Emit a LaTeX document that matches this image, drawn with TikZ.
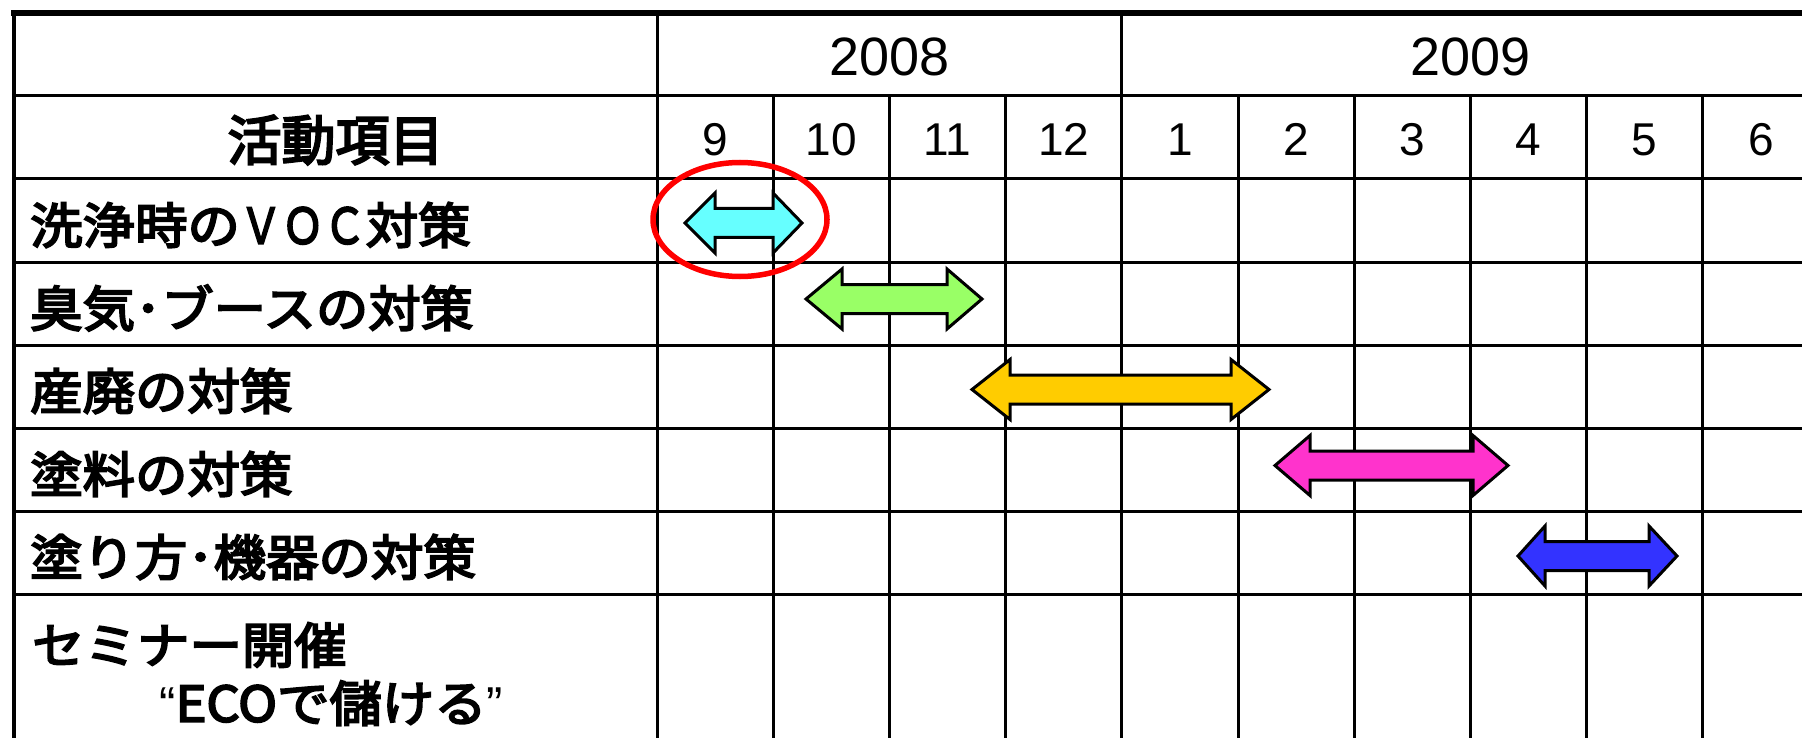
\documentclass[tikz,border=0pt]{standalone}
\usepackage{fontspec}
\usepackage{graphicx}
\setmainfont{Liberation Sans}
\newfontfamily\jp{Noto Sans CJK JP}[FakeStretch=1.07, FakeBold=4]
\newfontfamily\jphead{Noto Sans CJK JP}[FakeBold=4]
\newfontfamily\lat{Liberation Sans}
\definecolor{acyan}{HTML}{66FFFF}
\definecolor{agreen}{HTML}{99FF66}
\definecolor{ayellow}{HTML}{FFCC00}
\definecolor{amagenta}{HTML}{FF33CC}
\definecolor{ablue}{HTML}{3333FF}
\newcommand\gantarrow[6]{%
  \filldraw[arrowshape, fill=#1] (#2,#6) -- (#3,#6-30) -- (#3,#6-14.5) -- (#4,#6-14.5) -- (#4,#6-30) -- (#5,#6)
    -- (#4,#6+30) -- (#4,#6+14.5) -- (#3,#6+14.5) -- (#3,#6+30) -- cycle;}
\begin{document}
\begin{tikzpicture}[x=1pt,y=-1pt,
  grid/.style={line width=3pt, black},
  arrowshape/.style={draw=black, line width=3pt, line join=miter},
  jplabel/.style={anchor=west, inner sep=0pt, font=\jp\fontsize{49}{60}\selectfont},
  headjp/.style={inner sep=0pt, font=\jphead\fontsize{54}{60}\selectfont},
  monthlbl/.style={anchor=base, inner sep=0pt, font=\fontsize{46}{50}\selectfont},
  yearlbl/.style={anchor=base, inner sep=0pt, font=\fontsize{54}{60}\selectfont}]
\useasboundingbox (0,0) rectangle (1802,738);
\fill[white] (0,0) rectangle (1802,738);
% grid
\foreach \y in {96,179,262,345,428,511,594} \draw[grid] (14,\y) -- (1802,\y);
\draw[line width=4pt] (14,13) -- (14,738);
\foreach \x in {657,1121.8} \draw[grid] (\x,13) -- (\x,738);
\foreach \x in {773.2,889.4,1005.6,1238,1354.2,1470.4,1586.6,1702.8} \draw[grid] (\x,96) -- (\x,738);
\draw[line width=6pt] (11,13) -- (1802,13);
% header
\node[yearlbl] (y2008) at (889.4,76) {2008};
\node[yearlbl] (y2009) at (1470.4,76) {2009};
\foreach \m [count=\i from 0] in {9,10,11,12,1,2,3,4,5,6}
  \node[monthlbl] (m\i) at ({657+116.2*(\i+0.5)},156) {\m};
\node[headjp] (head) at (335.5,140) {活動項目};
% labels
\node[jplabel] (r1) at (30,225) {洗浄時の\scalebox{0.8}[1]{ＶＯＣ}対策};
\node[jplabel] (r2) at (30,308) {臭気･ブースの対策};
\node[jplabel] (r3) at (30,391) {産廃の対策};
\node[jplabel] (r4) at (30,474) {塗料の対策};
\node[jplabel] (r5) at (30,557) {塗り方･機器の対策};
\node[jplabel] (r6) at (32,645) {セミナー開催};
\node[jplabel] (r6b) at (159,703) {{\lat “}ECOで儲ける{\lat ”}};
% arrows
\gantarrow{acyan}{685}{715}{773}{802}{223}
\gantarrow{agreen}{806}{842}{947}{982}{299}
\gantarrow{ayellow}{972}{1010}{1231}{1269}{389.5}
\gantarrow{amagenta}{1275}{1310}{1473}{1508}{465.5}
\gantarrow{ablue}{1518}{1545}{1649}{1677}{556}
% highlight
\draw[red, line width=5.5pt] (740,219.5) ellipse [x radius=87, y radius=57];
\end{tikzpicture}
\end{document}
